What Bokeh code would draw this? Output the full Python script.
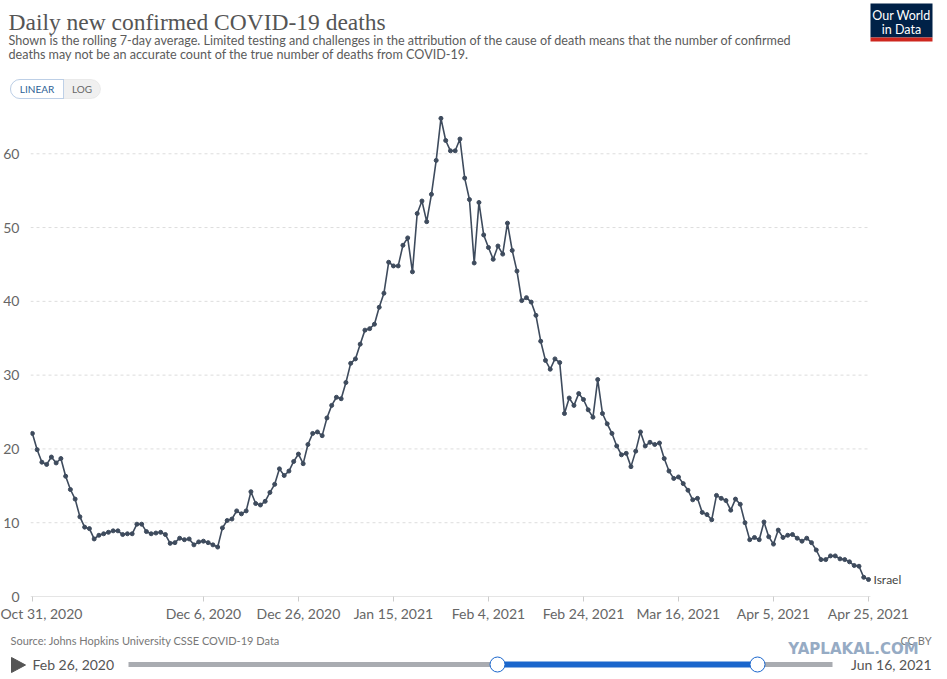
import pandas as pd
from bokeh.plotting import figure
from bokeh.models import Range1d, FixedTicker, Label, BoxAnnotation, ColumnDataSource
from bokeh.layouts import column, row
from bokeh.embed import file_html
from bokeh.resources import INLINE
from bokeh.core.properties import value

# ---------------- data ----------------
start_date = "2020-10-31"
country = "Israel"
deaths = [
    22.1, 19.9, 18.2, 17.9, 18.9, 18.1, 18.7, 16.3, 14.5, 13.2,
    10.8, 9.4, 9.2, 7.8, 8.3, 8.5, 8.7, 8.9, 8.9, 8.4,
    8.5, 8.5, 9.8, 9.8, 8.8, 8.5, 8.6, 8.7, 8.4, 7.2,
    7.3, 7.9, 7.7, 7.8, 7.0, 7.4, 7.5, 7.3, 7.0, 6.7,
    9.3, 10.3, 10.5, 11.6, 11.2, 11.6, 14.2, 12.6, 12.4, 12.9,
    14.1, 15.2, 17.3, 16.4, 17.0, 18.3, 19.3, 18.0, 20.6, 22.1,
    22.3, 21.8, 24.2, 25.9, 27.0, 26.8, 29.0, 31.6, 32.2, 34.2,
    36.1, 36.3, 36.9, 39.2, 41.1, 45.3, 44.8, 44.8, 47.6, 48.6,
    44.0, 51.9, 53.6, 50.8, 54.5, 59.1, 64.8, 61.8, 60.4, 60.4,
    62.0, 56.7, 53.8, 45.2, 53.4, 49.0, 47.3, 45.7, 47.5, 46.4,
    50.6, 46.9, 44.1, 40.1, 40.5, 39.9, 38.1, 34.6, 32.0, 30.8,
    32.2, 31.7, 24.8, 26.9, 25.9, 27.5, 26.7, 25.3, 24.3, 29.4,
    24.8, 23.4, 22.1, 20.4, 19.2, 19.4, 17.6, 19.7, 22.3, 20.4,
    20.9, 20.6, 20.8, 18.7, 17.0, 16.0, 16.2, 15.3, 14.4, 13.1,
    13.3, 11.4, 11.1, 10.4, 13.7, 13.3, 13.0, 11.7, 13.2, 12.5,
    10.0, 7.7, 8.0, 7.7, 10.1, 8.1, 7.1, 9.0, 8.0, 8.3,
    8.4, 7.9, 7.5, 7.9, 7.3, 6.3, 5.0, 5.0, 5.5, 5.5,
    5.1, 5.0, 4.7, 4.2, 4.1, 2.6, 2.3,
]
tick_days = [0, 36, 56, 76, 96, 116, 136, 156, 176]
tick_labels = ["Oct 31, 2020", "Dec 6, 2020", "Dec 26, 2020", "Jan 15, 2021",
               "Feb 4, 2021", "Feb 24, 2021", "Mar 16, 2021", "Apr 5, 2021",
               "Apr 25, 2021"]
y_ticks = [0, 10, 20, 30, 40, 50, 60]

title_text = "Daily new confirmed COVID-19 deaths"
subtitle_lines = [
    "Shown is the rolling 7-day average. Limited testing and challenges in the attribution of the cause of death means that the number of confirmed",
    "deaths may not be an accurate count of the true number of deaths from COVID-19.",
]
source_text = "Source: Johns Hopkins University CSSE COVID-19 Data"
license_text = "CC BY"
watermark_text = "YAPLAKAL.COM"
timeline_start = "Feb 26, 2020"
timeline_end = "Jun 16, 2021"

dates = pd.date_range(start_date, periods=len(deaths), freq="D")
src = ColumnDataSource(dict(day=list(range(len(deaths))), deaths=deaths, date=dates))

W = 940
LATO = value("Lato")
SERIF = value("Liberation Serif")


def deco_fig(h):
    f = figure(width=W, height=h, x_range=Range1d(0, W), y_range=Range1d(0, h),
               x_axis_location=None, y_axis_location=None,
               output_backend="svg", toolbar_location=None, min_border=0)
    f.grid.visible = False
    f.outline_line_color = None
    return f

# ---------------- header ----------------
H1 = 105
hd = deco_fig(H1)
hd.text(x=[8], y=[84], text=[title_text], text_font=SERIF, text_font_size="23.5px",
        text_color="#555555", text_baseline="alphabetic")
hd.text(x=[8, 8], y=[65.5, 51.5], text=subtitle_lines, text_font=LATO,
        text_font_size="12.6px", text_color="#5b5b5b", text_baseline="alphabetic")
# logo
hd.add_layout(BoxAnnotation(left=870, right=932, bottom=68, top=102, level="underlay",
                            fill_color="#002147", fill_alpha=1, line_color=None))
hd.add_layout(BoxAnnotation(left=870, right=932, bottom=64, top=68, level="underlay",
                            fill_color="#ce261e", fill_alpha=1, line_color=None))
hd.text(x=[901, 901], y=[90, 76], text=["Our World", "in Data"], text_font=LATO,
        text_font_size="12.5px", text_color="white", text_align="center",
        text_baseline="middle")
# linear / log buttons
hd.add_layout(BoxAnnotation(left=10, right=100, bottom=7, top=26, border_radius=10,
                            level="underlay",
                            fill_color="#f0f0f0", fill_alpha=1, line_color="#cccccc",
                            line_width=1))
hd.add_layout(BoxAnnotation(left=10, right=63, bottom=7, top=26,
                            border_radius=(10, 0, 0, 10), level="underlay",
                            fill_color="white", fill_alpha=1, line_color="#3b78c2",
                            line_width=1))
hd.text(x=[36.5, 81.5], y=[16.5, 16.5], text=["LINEAR", "LOG"], text_font=LATO,
        text_font_size="10px", text_color=["#2d5f96", "#666666"],
        text_align="center", text_baseline="middle")

# ---------------- main chart ----------------
X0, X1 = -0.4, 176.4
p = figure(width=W, height=520, x_range=Range1d(X0, 184.0), y_range=Range1d(0, 66),
           min_border_left=30, min_border_right=34, min_border_top=4,
           min_border_bottom=29, output_backend="svg", toolbar_location=None)
p.outline_line_color = None
p.xgrid.visible = False
p.ygrid.visible = False
p.segment(x0=[X0] * (len(y_ticks) - 1), x1=[X1] * (len(y_ticks) - 1),
          y0=y_ticks[1:], y1=y_ticks[1:], line_color="#dddddd", line_dash="3 3",
          line_width=1, level="underlay")
p.segment(x0=[X0], x1=[X1], y0=[0], y1=[0], line_color="#cccccc", line_width=1,
          level="underlay")
p.yaxis.ticker = FixedTicker(ticks=y_ticks)
p.yaxis.axis_line_color = None
p.yaxis.major_tick_line_color = None
p.yaxis.minor_tick_line_color = None
p.yaxis.major_label_standoff = 5
p.yaxis.major_label_text_font = "Lato"
p.yaxis.major_label_text_font_size = "14px"
p.yaxis.major_label_text_color = "#666666"

p.xaxis.ticker = FixedTicker(ticks=tick_days)
p.xaxis.major_label_overrides = {d: l for d, l in zip(tick_days, tick_labels)}
p.xaxis.axis_line_color = None
p.xaxis.major_tick_line_color = "#cccccc"
p.xaxis.major_tick_in = 0
p.xaxis.major_tick_out = 5
p.xaxis.minor_tick_line_color = None
p.xaxis.major_label_standoff = 3
p.xaxis.major_label_text_font = "Lato"
p.xaxis.major_label_text_font_size = "14px"
p.xaxis.major_label_text_color = "#666666"

LINE = "#3e4b5d"
p.line("day", "deaths", source=src, line_color=LINE, line_width=1.6)
p.scatter("day", "deaths", source=src, size=4, color=LINE)
p.add_layout(Label(x=len(deaths) - 1, y=deaths[-1], text=country, x_offset=5,
                   text_baseline="middle", text_font="Lato", text_font_size="12px",
                   text_color="#444444"))

# ---------------- footer ----------------
H3 = 52
ft = deco_fig(H3)
ft.text(x=[10], y=[37], text=[source_text], text_font=LATO, text_font_size="11px",
        text_color="#777777", text_baseline="middle")
ft.text(x=[931], y=[37], text=[license_text], text_font=LATO, text_font_size="11px",
        text_color="#777777", text_baseline="middle", text_align="right")
ft.text(x=[853], y=[29], text=[watermark_text], text_font=value("DejaVu Sans"),
        text_font_size="15px", text_font_style="bold", text_color="#96abc4",
        text_baseline="middle", text_align="center")
ft.patch(x=[11, 11, 25], y=[20, 5, 12.5], fill_color="#555555", line_color="#555555")
ft.text(x=[32], y=[13], text=[timeline_start], text_font=LATO, text_font_size="14px",
        text_color="#555555", text_baseline="middle")
ft.text(x=[931], y=[13], text=[timeline_end], text_font=LATO, text_font_size="14px",
        text_color="#555555", text_baseline="middle", text_align="right")
ft.segment(x0=[128], y0=[13], x1=[832], y1=[13], line_color="#a9acb1", line_width=5)
ft.segment(x0=[497], y0=[13], x1=[757], y1=[13], line_color="#1a66cc", line_width=6)
ft.scatter(x=[497, 757], y=[13, 13], size=15, fill_color="white", line_color="#1a66cc",
           line_width=1)

layout = column(row(hd), row(p), row(ft), spacing=0)
open("out.html", "w").write(file_html(layout, INLINE))
